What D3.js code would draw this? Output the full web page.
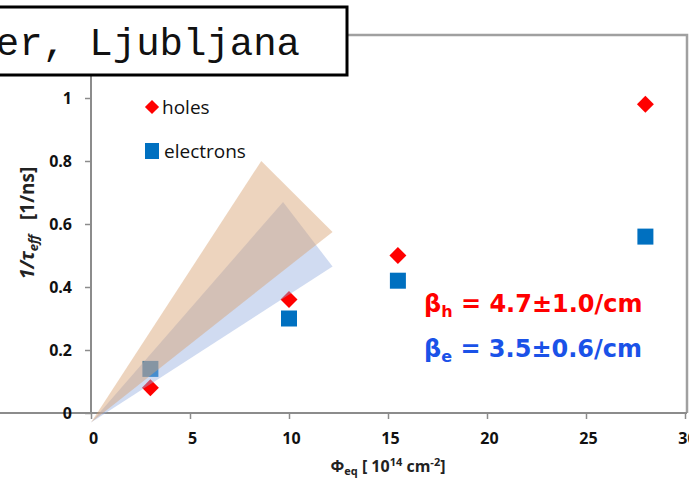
<!DOCTYPE html>
<html>
<head>
<meta charset="utf-8">
<script src="https://cdn.jsdelivr.net/npm/d3@7"></script>
<style>
  html, body { margin: 0; padding: 0; background: #fff; }
  svg { display: block; }
</style>
</head>
<body>
<svg id="chart" width="689" height="485"></svg>
<script>
// ---- data ----
const fluence = [3, 10, 15.5, 28];
const holes = [0.08, 0.36, 0.50, 0.98];
const electrons = [0.14, 0.30, 0.42, 0.56];
const xTicks = [0, 5, 10, 15, 20, 25, 30];
const yTicks = [0, 0.2, 0.4, 0.6, 0.8, 1];
// fitted slope bands (corner points in data units)
const holeBand = [[0, -0.03], [8.6, 0.80], [12.2, 0.575]];
const electronBand = [[0, -0.03], [9.7, 0.67], [12.2, 0.465]];

const svg = d3.select("#chart");
const x = d3.scaleLinear().domain([0, 30]).range([91, 685]);
const y = d3.scaleLinear().domain([0, 1.2]).range([413, 35]);
const font = "'Open Sans', Lato, sans-serif";

// frame (top and right)
svg.append("path")
  .attr("d", `M${x(0)},${y(1.2)}H${x(30) + 2}V${y(0)}`)
  .attr("fill", "none").attr("stroke", "#a0a0a0").attr("stroke-width", 2.5);

// axes
const xAxis = svg.append("g").attr("transform", `translate(0,${y(0)})`)
  .call(d3.axisBottom(x).tickValues(xTicks).tickSize(6).tickPadding(14).tickFormat(d3.format("d")));
const yAxis = svg.append("g").attr("transform", `translate(${x(0)},0)`)
  .call(d3.axisLeft(y).tickValues(yTicks).tickSize(6).tickPadding(13).tickFormat(d => d === 0 || d === 1 ? d : d.toFixed(1)));
[xAxis, yAxis].forEach(g => {
  g.select(".domain").attr("stroke", "#8c8c8c").attr("stroke-width", 2);
  g.selectAll(".tick line").attr("stroke", "#8c8c8c").attr("stroke-width", 1.5);
  g.selectAll("text").attr("font-family", font).attr("font-weight", "bold")
    .attr("font-size", 16).attr("fill", "#111");
});
yAxis.select(".domain").attr("d", `M0,${y(1.2)}V${y(0)}`);
xAxis.select(".domain").attr("d", `M-6,0H${x(30) + 2}`);
xAxis.selectAll(".tick text").attr("dx", 2);

// markers
svg.append("g").selectAll("path").data(fluence).join("path")
  .attr("transform", (d, i) => `translate(${x(d)},${y(holes[i])}) rotate(45)`)
  .attr("d", "M-6,-6H6V6H-6Z").attr("fill", "#ff0000");
svg.append("g").selectAll("rect").data(fluence).join("rect")
  .attr("x", d => x(d) - 8).attr("y", (d, i) => y(electrons[i]) - 8)
  .attr("width", 16).attr("height", 16).attr("fill", "#0070c0");

// bands (drawn on top)
const line = d3.line().x(d => x(d[0])).y(d => y(d[1]));
svg.append("path").attr("d", line(electronBand) + "Z")
  .attr("fill", "rgb(150,175,225)").attr("fill-opacity", 0.45);
svg.append("path").attr("d", line(holeBand) + "Z")
  .attr("fill", "rgb(215,160,110)").attr("fill-opacity", 0.45);

// legend
svg.append("path").attr("transform", `translate(152,107) rotate(45)`)
  .attr("d", "M-5,-5H5V5H-5Z").attr("fill", "#ff0000");
svg.append("text").attr("x", 162).attr("y", 114).text("holes")
  .attr("font-family", font).attr("font-size", 19).attr("fill", "#111");
svg.append("rect").attr("x", 145).attr("y", 143).attr("width", 14).attr("height", 16).attr("fill", "#0070c0");
svg.append("text").attr("x", 164).attr("y", 158).text("electrons")
  .attr("font-family", font).attr("font-size", 19).attr("fill", "#111");

// annotations
function beta(yPos, sub, rest, color) {
  const t = svg.append("text").attr("x", 424).attr("y", yPos)
    .attr("font-family", "'DejaVu Sans', sans-serif").attr("font-weight", "bold").attr("font-size", 24).attr("fill", color);
  t.append("tspan").text("β");
  t.append("tspan").attr("font-size", 16).attr("dy", 5).text(sub);
  t.append("tspan").attr("dy", -5).text(" = " + rest);
}
beta(312, "h", "4.7±1.0/cm", "#ff0000");
beta(357, "e", "3.5±0.6/cm", "#1a52e8");

// axis titles
const xt = svg.append("text").attr("x", 388).attr("y", 472).attr("text-anchor", "middle")
  .attr("font-family", font).attr("font-weight", "bold").attr("font-size", 16).attr("fill", "#222");
xt.append("tspan").text("Φ");
xt.append("tspan").attr("font-size", 11).attr("dy", 3).text("eq");
xt.append("tspan").attr("dy", -3).text(" [ 10");
xt.append("tspan").attr("font-size", 11).attr("dy", -6).text("14");
xt.append("tspan").attr("dy", 6).text(" cm");
xt.append("tspan").attr("font-size", 11).attr("dy", -6).text("-2");
xt.append("tspan").attr("dy", 6).text("]");

const yt = svg.append("text").attr("transform", "translate(34,223) rotate(-90)").attr("text-anchor", "middle")
  .style("white-space", "pre")
  .attr("font-family", font).attr("font-weight", "bold").attr("font-size", 19).attr("fill", "#222");
yt.append("tspan").attr("font-style", "italic").text("1/τ");
yt.append("tspan").attr("font-style", "italic").attr("font-size", 13).attr("dy", 4).text("eff");
yt.append("tspan").attr("dy", -4).text("   [1/ns]");

// title box
svg.append("rect").attr("x", -10).attr("y", 7).attr("width", 357).attr("height", 68)
  .attr("fill", "#fff").attr("stroke", "#000").attr("stroke-width", 3);
svg.append("text").attr("x", 300).attr("y", 55).attr("text-anchor", "end")
  .attr("font-family", "'Liberation Mono', 'Courier New', monospace").attr("font-size", 39).attr("fill", "#111")
  .text("G. Kramberger, Ljubljana");
</script>
</body>
</html>
